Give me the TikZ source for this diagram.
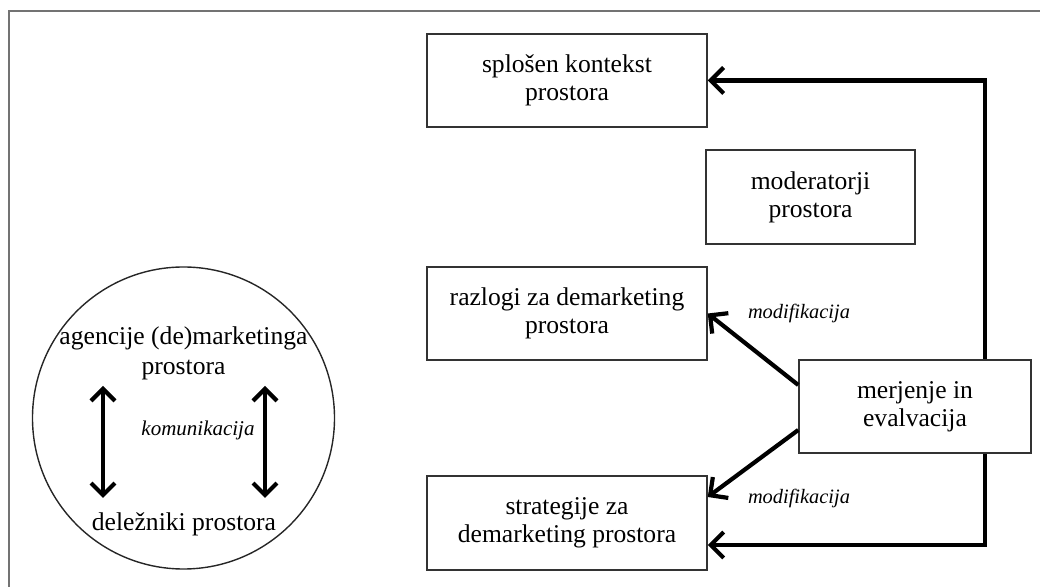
\documentclass[tikz,border=0pt]{standalone}
\usepackage{fontspec}
\setmainfont{Liberation Serif}
\usetikzlibrary{arrows.meta}
\tikzset{
  box/.style={draw=black!80, line width=0.75pt, fill=white, align=center, inner sep=2pt,
    font=\fontsize{12.8}{14}\selectfont},
  lbl/.style={align=center, inner sep=0pt, font=\fontsize{12.8}{15}\selectfont},
  ital/.style={inner sep=0pt, font=\fontsize{10.2}{12}\selectfont\itshape},
  arr/.style={line width=2.1pt, -{Straight Barb[length=6.5pt,width=13pt]}},
  darr/.style={line width=2.1pt, {Straight Barb[length=6pt,width=12pt]}-{Straight Barb[length=6pt,width=12pt]}},
}
\begin{document}
\begin{tikzpicture}[x=0.5pt,y=-0.5pt]
\useasboundingbox (0,0) rectangle (1040,587);
% frame
\draw[black!55, line width=1.1pt] (9,590) -- (9,11) -- (1045,11);
\node[box, minimum width=140pt, minimum height=46.5pt] (splosen) at (567,80.5) {splošen kontekst\\prostora};
\node[box, minimum width=104.5pt, minimum height=47pt] (moder) at (810.5,197) {moderatorji\\prostora};
\node[box, minimum width=140pt, minimum height=46.5pt] (razlogi) at (567,313.5) {razlogi za demarketing\\prostora};
\node[box, minimum width=140pt, minimum height=47pt] (strat) at (567,523) {strategije za\\demarketing prostora};
\coordinate (mc) at (915,406.5);
% feedback line (drawn first, the merjenje box covers it)
\draw[arr] ([xshift=35pt]mc) |- (splosen.east);
\draw[arr] ([xshift=35pt]mc) |- ([yshift=-11pt]strat.east);
\node[box, minimum width=116pt, minimum height=46.5pt] (merj) at (mc) {merjenje in\\evalvacija};
\draw[arr] ([yshift=10.75pt]merj.west) -- (razlogi.east);
\draw[arr] ([yshift=-11.75pt]merj.west) -- ([yshift=13pt]strat.east);
\node[ital] (mod1) at (799,313) {modifikacija};
\node[ital] (mod2) at (799,498) {modifikacija};
% circle
\node[draw=black!85, line width=0.7pt, circle, minimum size=151pt, inner sep=0pt] (circ) at (183.5,418) {};
\node[lbl] (agen) at (183.5,353) {agencije (de)marketinga\\prostora};
\node[lbl] (delez) at (184,524) {deležniki prostora};
\node[ital, font=\fontsize{10.5}{12}\selectfont\itshape] (kom) at (198,430) {komunikacija};
\coordinate (l1) at (103,386);
\coordinate (l2) at (103,498);
\coordinate (r1) at (265,386);
\coordinate (r2) at (265,498);
\draw[darr] (l1) -- (l2);
\draw[darr] (r1) -- (r2);
\end{tikzpicture}
\end{document}
